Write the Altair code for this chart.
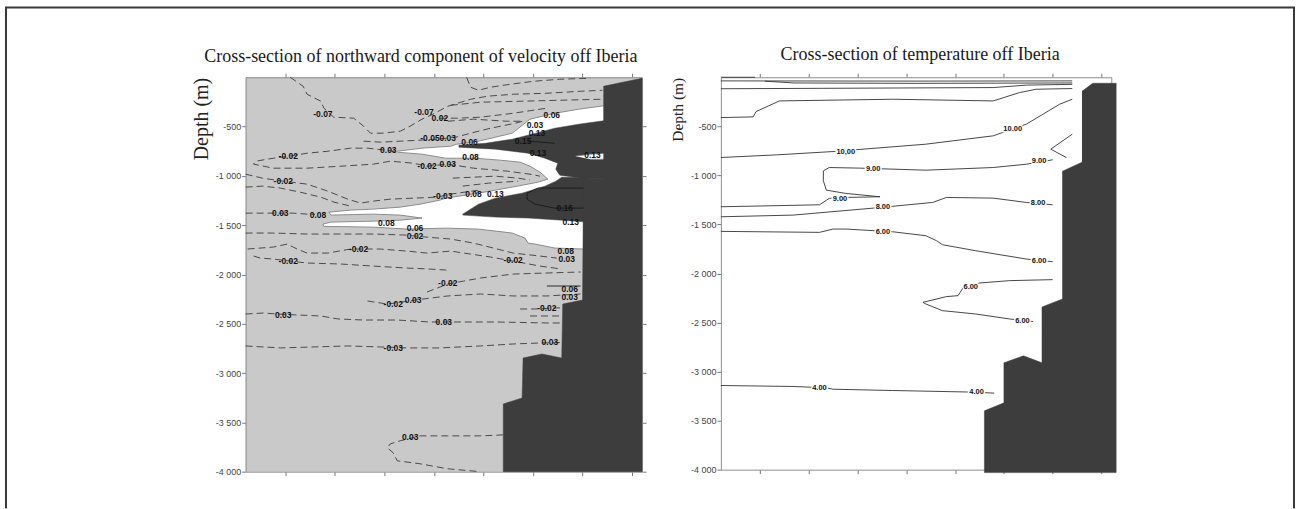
import altair as alt
import pandas as pd

# ---------------- shared axis values ----------------
x_ticks = [40, 90, 140, 190, 240, 290, 340, 390]
depth_ticks = [-4000, -3500, -3000, -2500, -2000, -1500, -1000, -500]
depth_tick_labels = ["-4 000", "-3 500", "-3 000", "-2 500", "-2 000", "-1 500", "-1 000", "-500"]

title_velocity = "Cross-section of northward component of velocity off Iberia"
title_temperature = "Cross-section of temperature off Iberia"
depth_title = "Depth (m)"

# ---------------- velocity panel (x in km along section, depth in m) ----------------
vel_bathymetry = [(361, -91), (400, -10), (400, -4000), (260, -4000), (260, -3313), (279, -3252),
                  (280, -2847), (299, -2806), (319, -2847), (320, -2300), (340, -2259), (341, -1023),
                  (361, -1023)]

vel_white = [(153, -750), (178, -719), (207, -699), (213, -679), (235, -648), (269, -567), (287, -425),
             (312, -365), (336, -324), (365, -284), (365, -1023), (341, -1023), (341, -1742), (312, -1732),
             (292, -1692), (285, -1682), (282, -1631), (269, -1580), (235, -1540), (202, -1530),
             (163, -1540), (129, -1520), (79, -1512), (78, -1489), (86, -1469), (129, -1459), (156, -1449),
             (178, -1428), (156, -1398), (129, -1388), (86, -1398), (84, -1368), (106, -1347), (129, -1337),
             (156, -1317), (176, -1287), (196, -1246), (202, -1226), (235, -1175), (269, -1114),
             (295, -1064), (305, -1033), (297, -962), (287, -902), (277, -861), (257, -841), (232, -821),
             (202, -821), (178, -780), (153, -760)]

vel_core_upper = [(215, -689), (242, -669), (269, -628), (289, -577), (312, -517), (336, -476), (365, -436),
                  (365, -1023), (341, -1023), (317, -993), (313, -932), (315, -871), (302, -821),
                  (285, -770), (252, -729), (215, -709)]
vel_core_lower = [(219, -1388), (235, -1287), (252, -1226), (279, -1175), (302, -1104), (313, -1054),
                  (319, -1013), (345, -1013), (345, -1469), (319, -1449), (285, -1428), (252, -1418),
                  (219, -1398)]
vel_white_sliver = [(333, -800), (348, -780), (365, -770), (365, -831), (348, -831)]

vel_solid_lines = {
    "s016": [(341, -1124), (295, -1124), (284, -1175), (284, -1236), (292, -1287), (312, -1327), (341, -1327)],
    "s015": [(285, -648), (312, -669)],
    "s006": [(304, -2117), (338, -2117)],
}

vel_dashed_lines = {
    "d01": [(45, 0), (58, -91), (62, -172), (76, -243), (79, -314), (89, -405), (109, -415), (119, -496),
            (126, -567), (139, -567), (156, -547), (166, -496), (178, -425), (189, -375), (204, -294),
            (227, -223), (244, -192), (270, -172), (304, -162), (338, -142), (360, -132)],
    "d02": [(196, -415), (214, -415), (237, -405), (270, -365), (297, -324), (304, -314)],
    "d03": [(223, 0), (227, -101), (235, -132), (247, -101), (267, -71), (290, -41), (317, -20), (348, -10)],
    "d04": [(119, -648), (136, -658), (156, -648), (176, -638), (193, -628), (212, -608), (227, -567),
            (247, -517), (272, -466), (280, -445)],
    "d05": [(151, -750), (141, -739), (123, -719), (106, -719), (83, -750), (62, -770), (45, -800),
            (28, -821), (10, -851), (8, -881), (28, -922), (62, -922), (96, -902), (129, -881), (146, -851),
            (169, -871), (183, -902), (204, -881), (230, -922), (264, -952), (287, -983), (297, -1003)],
    "d07": [(209, -1023), (230, -1013), (252, -1003), (275, -1023), (287, -1043)],
    "d07b": [(219, -1104), (245, -1074), (275, -1054)],
    "d08": [(0, -983), (17, -1023), (38, -1054), (62, -1084), (83, -1155), (103, -1236), (116, -1276),
            (129, -1256), (146, -1236), (169, -1226), (193, -1216), (207, -1185), (235, -1145)],
    "d09": [(0, -1114), (17, -1104), (35, -1124), (55, -1165), (76, -1216), (89, -1266), (106, -1307)],
    "d10": [(0, -1378), (28, -1378), (48, -1378), (62, -1388), (70, -1390)],
    "d11": [(0, -1580), (28, -1580), (62, -1590), (96, -1590), (129, -1590), (163, -1601), (171, -1611),
            (207, -1641), (230, -1682), (250, -1732), (270, -1783), (297, -1813), (314, -1834)],
    "d12": [(2, -1742), (28, -1722), (42, -1692), (52, -1742), (62, -1783), (83, -1783), (106, -1742),
            (136, -1742), (163, -1763), (183, -1783), (207, -1763), (227, -1793), (247, -1823),
            (270, -1864), (297, -1915), (319, -1945)],
    "d13": [(8, -1813), (15, -1834), (28, -1844), (62, -1884), (96, -1894), (129, -1915), (163, -1935),
            (186, -1945), (202, -1955), (204, -1965)],
    "d14": [(183, -2178), (204, -2097), (220, -2067), (237, -2036), (270, -1996), (304, -1985), (338, -1975)],
    "d15": [(123, -2269), (143, -2300), (179, -2249), (204, -2218), (237, -2198), (270, -2218),
            (304, -2218), (338, -2198)],
    "d16": [(277, -2350), (292, -2350), (314, -2340), (318, -2338)],
    "d17": [(287, -2421), (318, -2421)],
    "d18": [(0, -2401), (18, -2391), (32, -2401), (52, -2411), (76, -2421), (93, -2451), (119, -2462),
            (153, -2462), (186, -2482), (214, -2482), (254, -2482), (304, -2492), (318, -2492)],
    "d19": [(0, -2725), (35, -2745), (69, -2735), (103, -2725), (136, -2735), (163, -2745), (196, -2745),
            (237, -2725), (270, -2705), (297, -2695), (318, -2690)],
    "d20": [(260, -3627), (237, -3637), (204, -3637), (176, -3637), (156, -3687), (146, -3718),
            (143, -3758), (149, -3809), (153, -3890), (176, -3920), (204, -3971), (237, -4000)],
    "d21": [(207, -284), (237, -253), (277, -243), (317, -233), (358, -223)],
    "d23": [(204, -446), (230, -425), (264, -446), (280, -446)],
}

vel_labels = [("-0.07", 78, -375), ("-0.07", 180, -355), ("0.02", 196, -415), ("-0.05", 186, -618),
              ("0.03", 204, -618), ("0.06", 226, -658), ("0.06", 309, -385), ("0.03", 292, -486),
              ("0.13", 294, -567), ("0.15", 280, -648), ("0.13", 295, -770), ("0.13", 350, -790),
              ("-0.02", 43, -800), ("0.03", 144, -739), ("-0.02", 183, -902), ("0.03", 204, -881),
              ("0.08", 227, -810), ("-0.02", 38, -1054), ("-0.03", 199, -1205), ("0.08", 230, -1185),
              ("0.13", 252, -1185), ("0.16", 322, -1327), ("0.13", 328, -1469), ("0.03", 35, -1378),
              ("0.08", 73, -1398), ("0.08", 142, -1479), ("0.06", 171, -1530), ("0.02", 171, -1611),
              ("-0.02", 114, -1742), ("-0.02", 43, -1864), ("-0.02", 270, -1854), ("0.08", 323, -1763),
              ("0.03", 324, -1844), ("-0.02", 204, -2087), ("-0.02", 149, -2300), ("0.03", 169, -2259),
              ("0.06", 327, -2148), ("0.03", 327, -2229), ("-0.02", 304, -2340), ("0.03", 38, -2411),
              ("0.03", 200, -2482), ("-0.03", 149, -2745), ("0.03", 307, -2684), ("0.03", 166, -3647)]

# ---------------- temperature panel ----------------
temp_bathymetry = [(370, -143), (381, -61), (405, -61), (405, -4030), (270, -4030), (270, -3400),
                   (290, -3319), (290, -2911), (310, -2840), (329, -2911), (329, -2341), (350, -2260),
                   (350, -957), (370, -865)]

temp_lines = {
    "t00": [(0, 0), (35, 0)],
    "t01": [(0, -37), (200, -39), (360, -37)],
    "t01b": [(45, -40), (75, -58), (200, -62), (360, -58)],
    "t02": [(0, -117), (279, -105), (313, -80), (360, -72)],
    "t03": [(0, -411), (33, -404), (36, -350), (60, -241), (176, -224), (279, -241), (306, -156),
            (323, -122), (360, -115)],
    "t10": [(0, -818), (57, -791), (115, -757), (210, -682), (279, -597), (313, -478), (347, -275), (360, -224)],
    "t09v": [(360, -580), (338, -733), (354, -818)],
    "t09": [(0, -1320), (101, -1300), (111, -1235), (128, -1225), (163, -1218), (128, -1184), (108, -1150),
            (105, -1055), (105, -954), (111, -920), (142, -926), (210, -947), (279, -920), (313, -886),
            (340, -841)],
    "t08": [(0, -1422), (74, -1405), (156, -1334), (217, -1276), (231, -1225), (279, -1232), (313, -1276),
            (340, -1300)],
    "t06": [(0, -1571), (101, -1581), (115, -1547), (128, -1547), (176, -1575), (210, -1615), (221, -1666),
            (227, -1707), (261, -1768), (313, -1853), (340, -1880)],
    "t06b": [(340, -2063), (296, -2073), (265, -2097), (248, -2148), (243, -2226), (231, -2236), (207, -2294),
             (210, -2311), (227, -2379), (261, -2413), (296, -2464), (320, -2491)],
    "t04": [(0, -3142), (74, -3152), (108, -3166), (115, -3180), (176, -3193), (261, -3210), (280, -3220)],
}

temp_labels = [("10,00", 128, -757), ("10.00", 299, -523), ("9.00", 156, -937), ("9.00", 326, -852),
               ("9.00", 122, -1242), ("8.00", 166, -1327), ("8.00", 325, -1286), ("6.00", 166, -1575),
               ("6.00", 326, -1870), ("6.00", 256, -2141), ("6.00", 309, -2481), ("4.00", 101, -3166),
               ("4.00", 262, -3210)]


# ---------------- helpers ----------------
def path_df(paths):
    rows = []
    for name, pts in paths.items():
        for i, (x, d) in enumerate(pts):
            rows.append({"g": name, "i": i, "x": x, "depth": d})
    return pd.DataFrame(rows)


def label_df(labels):
    return pd.DataFrame(labels, columns=["t", "x", "depth"])


def xsc():
    return alt.Scale(domain=[0, 400], nice=False, zero=False)


def ysc():
    return alt.Scale(domain=[-4000, 0], nice=False, zero=False)


def X(axis=None):
    return alt.X("x:Q", scale=xsc(), axis=axis)


def Y(axis=None):
    return alt.Y("depth:Q", scale=ysc(), axis=axis)


def polygons(paths, fill, stroke, sw):
    return alt.Chart(path_df(paths)).mark_line(
        filled=True, fill=fill, stroke=stroke, strokeWidth=sw, strokeJoin="round"
    ).encode(x=X(), y=Y(), detail="g:N", order="i:Q")


def lines(paths, color, sw, dash=None):
    kw = dict(color=color, strokeWidth=sw, strokeJoin="round")
    if dash:
        kw["strokeDash"] = dash
    return alt.Chart(path_df(paths)).mark_line(**kw).encode(x=X(), y=Y(), detail="g:N", order="i:Q")


def texts(labels, size, halo=None):
    out = []
    if halo:
        out.append(alt.Chart(label_df(labels)).mark_text(
            font="Liberation Sans", fontSize=size, fontWeight="bold", stroke=halo, strokeWidth=3,
            fill=halo).encode(x=X(), y=Y(), text="t:N"))
    out.append(alt.Chart(label_df(labels)).mark_text(
        font="Liberation Sans", fontSize=size, fontWeight="bold", color="#111111"
    ).encode(x=X(), y=Y(), text="t:N"))
    return out


label_expr = " : ".join(
    f"datum.value == {v} ? '{s}'" for v, s in zip(depth_ticks, depth_tick_labels)) + " : ''"

axis_style = dict(domainColor="#8f8f8f", tickColor="#7a7a7a", tickSize=4, grid=False, domainWidth=1)
corner_df = pd.DataFrame({"x": [0, 400], "depth": [-4000, 0]})


def axis_layers(title_size, title_pad):
    a = alt.Chart(corner_df).mark_point(opacity=0).encode(
        x=alt.X("x:Q", scale=xsc(), title=None,
                axis=alt.Axis(orient="bottom", values=x_ticks, labels=False, **axis_style)),
        y=alt.Y("depth:Q", scale=ysc(), title=depth_title,
                axis=alt.Axis(orient="left", values=depth_ticks, labelExpr=label_expr,
                              labelFont="Liberation Sans", labelFontSize=9, labelColor="#444444",
                              labelPadding=1, titleFont="Liberation Serif", titleFontSize=title_size,
                              titleFontWeight="normal", titleColor="#222222", titleAnchor="end",
                              titlePadding=title_pad, **axis_style)))
    b = alt.Chart(corner_df).mark_point(opacity=0).encode(
        x=alt.X("x:Q", scale=xsc(), title=None,
                axis=alt.Axis(orient="top", values=x_ticks, labels=False, **axis_style)),
        y=alt.Y("depth:Q", scale=ysc(), title=None,
                axis=alt.Axis(orient="right", values=depth_ticks, labels=False, **axis_style)))
    return [a, b]


# frame around the whole figure: its own tiny cell, drawn as decoration (pixel positions)
frame_df = pd.DataFrame({"k": [0]})
frame_panel = alt.layer(
    alt.Chart(frame_df).mark_rule(color="#3a3a3a", strokeWidth=2).encode(
        x=alt.value(-160), y=alt.value(-70), y2=alt.value(432)),
    alt.Chart(frame_df).mark_rule(color="#3a3a3a", strokeWidth=2, strokeCap="square").encode(
        x=alt.value(-160), x2=alt.value(1130), y=alt.value(-70)),
    alt.Chart(frame_df).mark_rule(color="#3a3a3a", strokeWidth=2).encode(
        x=alt.value(1130), y=alt.value(-70), y2=alt.value(432)),
).properties(width=1, height=395, view=alt.ViewBackground(fill="transparent", strokeWidth=0))

# ---------------- left panel ----------------
DARK = "#3d3d3d"
left_layers = (
    axis_layers(20, 4)
    + [
        polygons({"white": vel_white}, "#ffffff", "#8c8c8c", 1),
        polygons({"core1": vel_core_upper, "core2": vel_core_lower}, DARK, DARK, 0.5),
        polygons({"sliver": vel_white_sliver}, "#ffffff", "#8c8c8c", 0.8),
        polygons({"bathy": vel_bathymetry}, DARK, DARK, 0.5),
        lines(vel_dashed_lines, "#4a4a4a", 1, [7, 4]),
        lines(vel_solid_lines, "#1a1a1a", 0.9),
    ]
    + texts(vel_labels, 8.5)
)
left = alt.layer(*left_layers).resolve_scale(x="independent", y="independent").properties(
    width=397, height=395,
    view=alt.ViewBackground(fill="#c9c9c9", strokeWidth=0),
    title=alt.TitleParams(title_velocity, font="Liberation Serif", fontSize=18, fontWeight="normal",
                          color="#1a1a1a", anchor="middle", frame="group", dx=-23, offset=7),
)

# ---------------- right panel ----------------
right_layers = (
    axis_layers(15.5, 5)
    + [
        polygons({"bathy": temp_bathymetry}, DARK, DARK, 0.5),
        lines(temp_lines, "#333333", 0.9),
    ]
    + texts(temp_labels, 7.5, halo="#ffffff")
)
right = alt.layer(*right_layers).resolve_scale(x="independent", y="independent").properties(
    width=391, height=393,
    view=alt.ViewBackground(fill="#ffffff", strokeWidth=0),
    title=alt.TitleParams(title_temperature, font="Liberation Serif", fontSize=18, fontWeight="normal",
                          color="#1a1a1a", anchor="middle", frame="group", dx=4, offset=9),
)

chart = alt.hconcat(frame_panel, left, right, spacing=79, bounds="flush").properties(
    padding={"left": 4, "top": 5, "right": 0, "bottom": 0},
    background="#ffffff",
).configure_view(strokeWidth=0)

chart.save("out.html", embed_options={"renderer": "svg", "actions": False})
